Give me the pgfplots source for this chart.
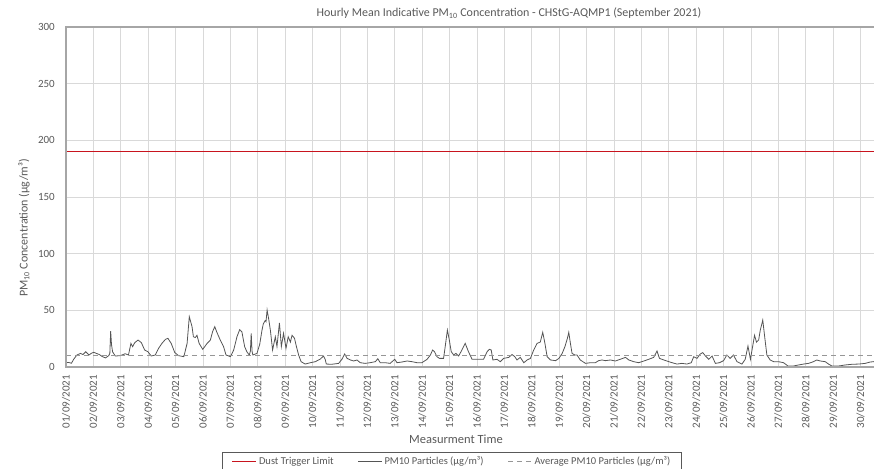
\documentclass[border=0pt]{standalone}
\usepackage{fontspec}
\setmainfont{Carlito}
\usepackage{xcolor}
\usepackage{pgfplots}
\pgfplotsset{compat=1.18}
\definecolor{txtgray}{RGB}{89,89,89}
\definecolor{gridgray}{RGB}{217,217,217}
\definecolor{framegray}{RGB}{166,166,166}
\definecolor{dustred}{RGB}{200,20,30}
\definecolor{pmgray}{RGB}{85,85,85}
\definecolor{avggray}{RGB}{150,150,150}
\begin{document}
\begin{tikzpicture}
\begin{axis}[
  name=ax,
  scale only axis,
  width=808pt, height=340pt,
  xmin=0, xmax=29.49, ymin=0, ymax=300,
  axis line style={draw=none},
  xtick={0,...,29},
  xticklabels={01/09/2021,02/09/2021,03/09/2021,04/09/2021,05/09/2021,06/09/2021,07/09/2021,08/09/2021,09/09/2021,10/09/2021,11/09/2021,12/09/2021,13/09/2021,14/09/2021,15/09/2021,16/09/2021,17/09/2021,18/09/2021,19/09/2021,20/09/2021,21/09/2021,22/09/2021,23/09/2021,24/09/2021,25/09/2021,26/09/2021,27/09/2021,28/09/2021,29/09/2021,30/09/2021},
  ytick={0,50,...,300},
  major tick length=0pt,
  grid=major,
  major grid style={draw=gridgray, line width=0.9pt},
  /pgf/number format/assume math mode=true,
  tick label style={font=\fontsize{11}{13}\selectfont, text=txtgray},
  x tick label style={rotate=90, anchor=east, inner sep=0pt, xshift=-8pt},
  y tick label style={inner sep=0pt, xshift=-11pt},
  legend columns=3,
  legend style={at={(0.4777,-0.25)}, anchor=north, draw=txtgray, line width=0.8pt,
    font=\fontsize{10.5}{12}\selectfont, text=txtgray, inner xsep=9pt, inner ysep=2pt,
    /tikz/every even column/.append style={column sep=22pt}},
  legend image code/.code={\draw[#1] (0pt,0pt) -- (24pt,0pt);},
]
\addplot[color=dustred, line width=1.4pt] coordinates {(0,190) (29.6,190)};
\addlegendentry{Dust Trigger Limit}
\addplot[color=pmgray, line width=0.8pt] coordinates {
(0,3.8) (0.1,4.0) (0.2,3.3) (0.28,6.8) (0.4,10.6) (0.53,12) (0.62,11) (0.72,13.5) (0.84,10.6) (0.92,12)
(1.01,13) (1.13,11.8) (1.22,11) (1.31,9.4) (1.44,8) (1.56,10) (1.60,12) (1.63,31.7) (1.66,20) (1.70,13.4)
(1.80,9.7) (1.98,10) (2.16,11.7) (2.28,10.6) (2.37,20.8) (2.43,17.9) (2.51,21.5) (2.63,23.8) (2.75,21.5) (2.87,15)
(2.99,13.5) (3.11,9.7) (3.26,10.6) (3.38,16.5) (3.50,20.8) (3.63,24.4) (3.72,25.3) (3.84,20.8) (3.97,12.7) (4.11,10)
(4.30,9.1) (4.42,20.8) (4.50,44.4) (4.60,35.6) (4.65,26.7) (4.72,26) (4.78,28) (4.86,20.8) (4.99,15.6) (5.15,20.8)
(5.27,23.8) (5.35,31.2) (5.43,35.6) (5.50,31) (5.63,23.8) (5.75,18) (5.84,10.6) (6.0,9.1) (6.12,15) (6.24,26.7)
(6.34,33) (6.42,31) (6.52,18) (6.60,13.5) (6.69,10.6) (6.73,14) (6.76,29.7) (6.79,14) (6.82,10.6) (6.97,12)
(7.07,20) (7.15,32) (7.20,38) (7.27,41) (7.30,40) (7.34,50.3) (7.40,42) (7.46,32.3) (7.54,15) (7.64,26.7)
(7.70,18) (7.79,39) (7.86,18) (7.94,29.7) (8.03,16.5) (8.11,26.7) (8.19,22) (8.25,28) (8.34,25.3) (8.41,18)
(8.49,10.6) (8.58,4.7) (8.73,2.6) (8.92,3.8) (9.1,4.7) (9.28,7) (9.40,9.7) (9.46,6.8) (9.5,2.6) (9.7,2.4)
(9.95,3.2) (10.07,6.8) (10.17,11.5) (10.26,7.6) (10.38,6.2) (10.5,5.3) (10.62,6.2) (10.74,3.8) (10.92,3.2) (11.1,3.8)
(11.29,4.7) (11.38,7.3) (11.47,3.8) (11.65,3.8) (11.83,3.2) (12.0,6.8) (12.08,3.8) (12.26,4.4) (12.45,5.3) (12.63,4.7)
(12.81,3.8) (12.99,3.8) (13.18,6.8) (13.3,10.6) (13.38,15) (13.45,13.5) (13.54,9.1) (13.63,7.6) (13.78,7.6) (13.84,18)
(13.92,32.6) (13.99,23.8) (14.06,13.5) (14.15,10.6) (14.23,12) (14.33,9.7) (14.45,15) (14.57,20.8) (14.69,13.5) (14.82,6.8)
(15.0,6.8) (15.24,6.8) (15.37,13.5) (15.45,15.6) (15.52,15) (15.58,6.2) (15.73,6.8) (15.85,4.7) (15.97,7.6) (16.16,8.5)
(16.28,11) (16.38,9.1) (16.46,6.2) (16.58,8.5) (16.71,3.8) (16.83,6.2) (16.95,7.6) (17.07,15) (17.19,20.8) (17.31,22)
(17.40,30.6) (17.48,20.8) (17.56,9.1) (17.68,6.2) (17.87,5.6) (17.99,7.6) (18.11,12) (18.21,18) (18.30,25.3) (18.35,30.6)
(18.41,20.8) (18.47,12) (18.57,10.6) (18.65,10.6) (18.77,6.2) (18.96,3.2) (19.14,3.8) (19.32,3.8) (19.44,5.6) (19.56,6.2)
(19.69,5.6) (19.87,6.2) (20.05,5.3) (20.23,6.8) (20.42,8.5) (20.54,6.2) (20.72,4.7) (20.9,3.8) (21.09,5.3) (21.27,6.8)
(21.45,8.5) (21.57,14.1) (21.66,7.6) (21.82,6.2) (21.93,5.3) (22.12,3.8) (22.3,2.6) (22.48,3.2) (22.66,2.6) (22.82,3.8)
(22.91,9.1) (23.03,7.6) (23.15,11.5) (23.24,12.7) (23.34,9.7) (23.46,6.8) (23.58,9.7) (23.70,3.2) (23.85,3.8) (24.0,5.6)
(24.12,10.6) (24.24,7.6) (24.36,10.6) (24.49,4.7) (24.67,2.6) (24.79,6.8) (24.89,18.5) (24.98,6.8) (25.06,18) (25.13,28)
(25.2,22) (25.28,23.8) (25.34,32.6) (25.43,41.4) (25.5,26.7) (25.58,10.6) (25.7,6.2) (25.83,4.7) (26.0,4.7) (26.19,3.8)
(26.35,0.9) (26.55,0.9) (26.74,1.8) (26.92,2.6) (27.1,3.2) (27.28,4.7) (27.4,6.2) (27.53,5.3) (27.71,4.7) (27.83,2.6)
(27.95,0.9) (28.2,0.9) (28.44,1.8) (28.69,2.4) (28.93,2.6) (29.17,3.2) (29.35,4.4) (29.47,4.7) (29.6,5)
};
\addlegendentry{PM10 Particles (µg/m³)}
\addplot[color=avggray, line width=0.9pt, dash pattern=on 5pt off 4pt] coordinates {(0,9.8) (29.6,9.8)};
\addlegendentry{Average PM10 Particles (µg/m³)}
\end{axis}
\draw[framegray, line width=1.8pt] (ax.south east) -- (ax.south west) -- (ax.north west) -- (ax.north east);
\node[text=txtgray, font=\fontsize{12}{14}\selectfont] at ([shift={(443pt,354pt)}]ax.south west) {Hourly Mean Indicative PM\textsubscript{10} Concentration - CHStG-AQMP1 (September 2021)};
\node[text=txtgray, font=\fontsize{12.5}{14}\selectfont] at ([shift={(390pt,-72pt)}]ax.south west) {Measurment Time};
\node[text=txtgray, font=\fontsize{12}{14}\selectfont, rotate=90] at ([shift={(-42pt,139pt)}]ax.south west) {PM\textsubscript{10} Concentration (µg/m³)};
\pgfresetboundingbox
\path[use as bounding box] ([shift={(-66pt,-102pt)}]ax.south west) rectangle ([shift={(0pt,27pt)}]ax.north east);
\end{tikzpicture}
\end{document}
